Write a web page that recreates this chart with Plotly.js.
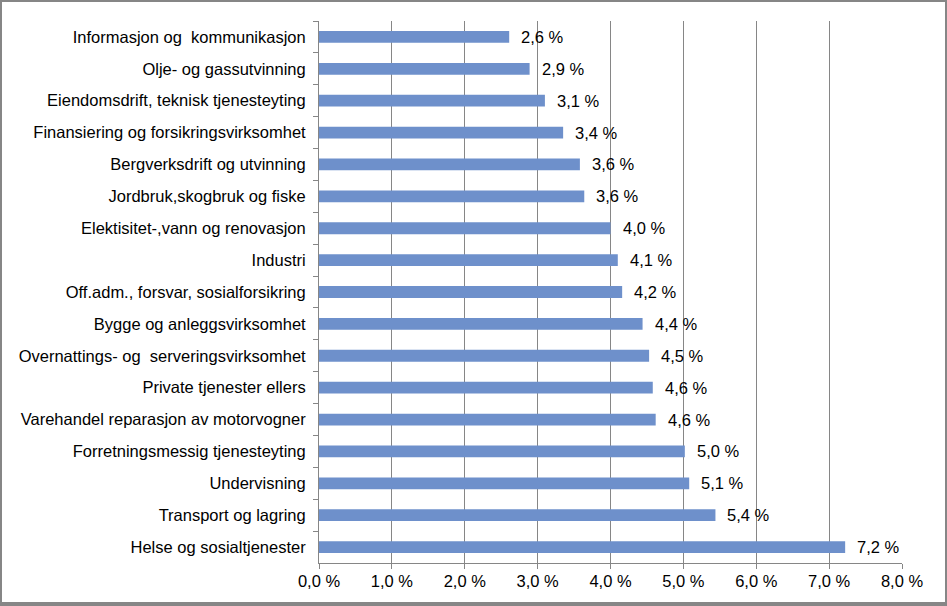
<!DOCTYPE html>
<html>
<head>
<meta charset="utf-8">
<script src="https://cdn.plot.ly/plotly-3.0.1.min.js"></script>
<style>
  html, body { margin: 0; padding: 0; background: #fff; }
  #wrap { position: relative; width: 947px; height: 606px; }
  #chart { position: absolute; left: 0; top: 0; width: 947px; height: 606px; }
  #frame { position: absolute; left: 0; top: 0; width: 947px; height: 606px; box-sizing: border-box;
           border-style: solid; border-color: #868686; border-width: 2px 2px 4px 2px; pointer-events: none; }
</style>
</head>
<body>
<div id="wrap"><div id="chart"></div><div id="frame"></div></div>
<script>
// Categories, top to bottom
var categories = [
  "Informasjon og\u00a0 kommunikasjon",
  "Olje- og gassutvinning",
  "Eiendomsdrift, teknisk tjenesteyting",
  "Finansiering og forsikringsvirksomhet",
  "Bergverksdrift og utvinning",
  "Jordbruk,skogbruk og fiske",
  "Elektisitet-,vann og renovasjon",
  "Industri",
  "Off.adm., forsvar, sosialforsikring",
  "Bygge og anleggsvirksomhet",
  "Overnattings- og\u00a0 serveringsvirksomhet",
  "Private tjenester ellers",
  "Varehandel reparasjon av motorvogner",
  "Forretningsmessig tjenesteyting",
  "Undervisning",
  "Transport og lagring",
  "Helse og sosialtjenester"
];
// Values in percent
var values = [2.61, 2.89, 3.10, 3.35, 3.58, 3.64, 4.00, 4.10, 4.16, 4.44, 4.53, 4.58, 4.62, 5.02, 5.08, 5.44, 7.22];
// Tick values and labels on x axis
var xTicks = [0, 1, 2, 3, 4, 5, 6, 7, 8];
var xTickLabels = ["0,0 %", "1,0 %", "2,0 %", "3,0 %", "4,0 %", "5,0 %", "6,0 %", "7,0 %", "8,0 %"];

var fontFam = "Liberation Sans, Arial, sans-serif";
var fs = 16.5;

function fmt(v) { return v.toFixed(1).replace('.', ',') + ' %'; }

var trace = {
  type: 'bar',
  orientation: 'h',
  x: values,
  y: categories,
  width: 0.37,
  marker: { color: '#6e90cb', line: { width: 0 } },
  hoverinfo: 'x+y'
};

var annotations = values.map(function (v, i) {
  return {
    x: v, y: categories[i], xref: 'x', yref: 'y',
    text: fmt(v), showarrow: false, xanchor: 'left', yanchor: 'middle',
    xshift: 10, font: { family: fontFam, size: fs, color: '#000' }
  };
});

var layout = {
  width: 947, height: 606,
  margin: { l: 319, r: 45, t: 21, b: 43, pad: 0 },
  paper_bgcolor: '#ffffff', plot_bgcolor: '#ffffff',
  showlegend: false,
  font: { family: fontFam, size: fs, color: '#000' },
  bargap: 0.63,
  xaxis: {
    range: [0, 8],
    tickmode: 'array',
    tickvals: xTicks,
    ticktext: xTickLabels,
    showgrid: true, gridcolor: '#868686', gridwidth: 1,
    zeroline: false,
    showline: true, linecolor: '#868686', linewidth: 1,
    ticks: 'outside', ticklen: 5, tickcolor: '#868686',
    ticklabelstandoff: -2,
    tickfont: { family: fontFam, size: fs, color: '#000' },
    fixedrange: true
  },
  yaxis: {
    type: 'category',
    autorange: 'reversed',
    showgrid: false, zeroline: false,
    showline: true, linecolor: '#868686', linewidth: 1,
    ticks: 'outside', ticklen: 5, tickcolor: '#868686',
    tickson: 'boundaries',
    ticklabelstandoff: 9,
    tickfont: { family: fontFam, size: fs, color: '#000' },
    fixedrange: true
  },
  annotations: annotations
};

Plotly.newPlot('chart', [trace], layout, { displayModeBar: false, staticPlot: true });
</script>
</body>
</html>
